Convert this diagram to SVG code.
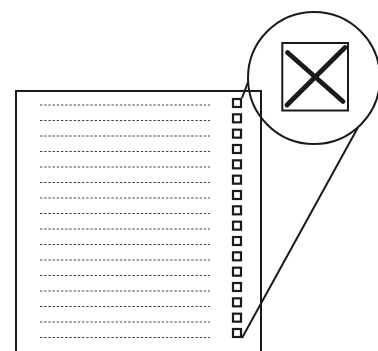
<svg xmlns="http://www.w3.org/2000/svg" width="378" height="351" viewBox="0 0 378 351">
<style>
.ink{fill:none;stroke:#1a1a1a;stroke-width:2}
.dash{stroke:#444;stroke-width:1;stroke-dasharray:2.4 1.8}
.box{fill:#fff;stroke:#1a1a1a;stroke-width:2.2}
</style>
<rect width="378" height="351" fill="#fff"/>
<g id="page">
<rect x="16" y="91" width="245" height="280" class="ink"/>
<g id="lines">
<line x1="40" y1="105" x2="210" y2="105" class="dash"/>
<line x1="40" y1="120.5" x2="210" y2="120.5" class="dash"/>
<line x1="40" y1="136" x2="210" y2="136" class="dash"/>
<line x1="40" y1="151.5" x2="210" y2="151.5" class="dash"/>
<line x1="40" y1="167" x2="210" y2="167" class="dash"/>
<line x1="40" y1="182.5" x2="210" y2="182.5" class="dash"/>
<line x1="40" y1="198" x2="210" y2="198" class="dash"/>
<line x1="40" y1="213.5" x2="210" y2="213.5" class="dash"/>
<line x1="40" y1="229" x2="210" y2="229" class="dash"/>
<line x1="40" y1="244.5" x2="210" y2="244.5" class="dash"/>
<line x1="40" y1="260" x2="210" y2="260" class="dash"/>
<line x1="40" y1="275.5" x2="210" y2="275.5" class="dash"/>
<line x1="40" y1="291" x2="210" y2="291" class="dash"/>
<line x1="40" y1="306.5" x2="210" y2="306.5" class="dash"/>
<line x1="40" y1="322" x2="210" y2="322" class="dash"/>
<line x1="40" y1="337.5" x2="210" y2="337.5" class="dash"/>
</g>
<g id="checkboxes">
<rect x="233" y="99" width="8" height="8" class="box"/>
<rect x="233" y="114.33" width="8" height="8" class="box"/>
<rect x="233" y="129.67" width="8" height="8" class="box"/>
<rect x="233" y="145" width="8" height="8" class="box"/>
<rect x="233" y="160.33" width="8" height="8" class="box"/>
<rect x="233" y="175.67" width="8" height="8" class="box"/>
<rect x="233" y="191" width="8" height="8" class="box"/>
<rect x="233" y="206.33" width="8" height="8" class="box"/>
<rect x="233" y="221.67" width="8" height="8" class="box"/>
<rect x="233" y="237" width="8" height="8" class="box"/>
<rect x="233" y="252.33" width="8" height="8" class="box"/>
<rect x="233" y="267.67" width="8" height="8" class="box"/>
<rect x="233" y="283" width="8" height="8" class="box"/>
<rect x="233" y="298.33" width="8" height="8" class="box"/>
<rect x="233" y="313.67" width="8" height="8" class="box"/>
<rect x="233" y="329" width="8" height="8" class="box"/>
</g>
</g>
<g id="connectors">
<line x1="242" y1="98" x2="248.2" y2="81.5" class="ink" stroke-width="1.6"/>
<line x1="242" y1="338" x2="357.8" y2="127.8" class="ink" stroke-width="1.6"/>
</g>
<g id="magnifier">
<circle cx="314" cy="78" r="66" class="ink" stroke-width="2.5"/>
<rect x="282.3" y="43" width="65.7" height="67.5" class="ink" stroke-width="2.5"/>
<line x1="287.5" y1="52.5" x2="343" y2="101.5" stroke="#1a1a1a" stroke-width="4.8" stroke-linecap="round"/>
<line x1="345" y1="47.5" x2="287" y2="105" stroke="#1a1a1a" stroke-width="4.8" stroke-linecap="round"/>
</g>
</svg>
